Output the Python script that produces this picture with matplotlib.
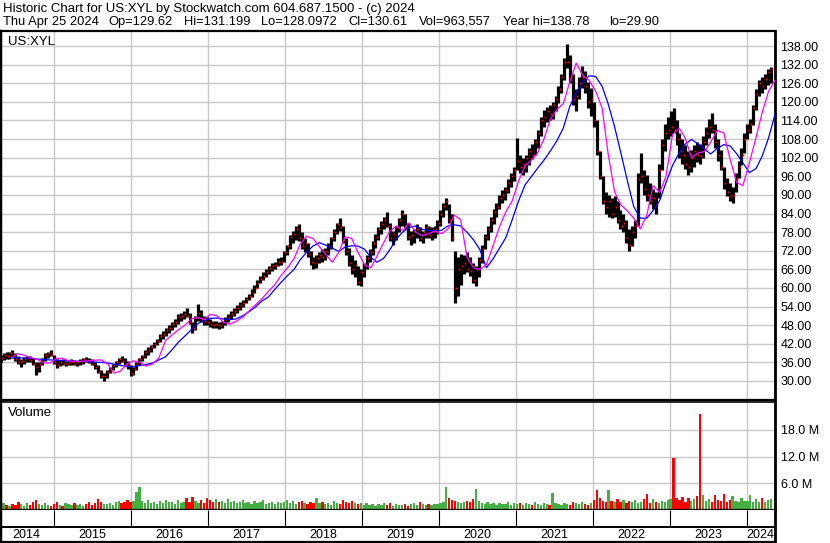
import matplotlib
matplotlib.use('Agg')
import matplotlib.pyplot as plt
import matplotlib.dates as mdates
import matplotlib.ticker as mticker
import pandas as pd
import numpy as np

plt.rcParams['font.family'] = ['Liberation Sans', 'DejaVu Sans']

# ---- price data, one bar every two weeks from 2014-04-25 ----
hi = [
    # 2014
    38.5, 39.0, 39.2, 39.5, 40.0, 39.0, 38.0, 37.0, 37.8, 38.0, 38.0, 37.5, 36.0, 36.0, 37.5, 39.0, 39.5, 40.0,
    # 2015
    38.5, 37.0, 36.8, 37.0, 36.5, 36.5, 37.0, 36.8, 36.5, 37.0, 37.5, 37.8, 37.5, 37.0, 36.0, 35.0, 33.5, 32.5,
    33.5, 34.5, 35.5, 36.5, 37.5, 38.0, 37.5, 36.5,
    # 2016
    35.0, 34.5, 36.0, 37.5, 38.5, 40.0, 41.0, 41.5, 42.5, 43.5, 45.0, 46.0, 47.0, 48.0, 49.0, 50.0, 51.5, 52.0,
    52.5, 53.5, 52.0, 49.0, 51.0, 54.8, 53.0, 51.0,
    # 2017
    50.5, 50.0, 49.5, 49.5, 49.0, 49.5, 50.5, 51.5, 52.5, 53.5, 54.5, 55.5, 56.0, 57.0, 58.0, 59.5, 61.0, 62.5,
    64.0, 65.0, 66.0, 67.0, 68.0, 68.5, 69.5, 70.0,
    # 2018
    72.0, 74.0, 77.0, 78.5, 80.0, 80.5, 78.0, 76.0, 74.5, 72.0, 70.0, 70.5, 71.5, 72.5, 73.0, 74.5, 76.5, 79.0,
    81.0, 82.5, 80.0, 76.0, 73.0, 70.5, 69.0, 67.0,
    # 2019
    66.0, 68.0, 70.5, 72.5, 75.0, 77.5, 79.5, 81.5, 83.0, 84.5, 81.0, 78.5, 80.0, 82.5, 85.0, 84.0, 81.0, 78.5,
    79.0, 80.5, 79.5, 78.5, 80.5, 80.0, 79.5, 80.0,
    # 2020
    82.0, 85.0, 87.5, 89.0, 87.0, 84.0, 72.0, 70.0, 71.0, 70.5, 71.5, 70.0, 68.0, 67.0, 70.0, 74.0, 77.5, 80.0,
    83.0, 85.5, 87.5, 90.0, 91.5, 92.5, 95.0, 97.0, 99.0,
    # 2021
    108.5, 103.0, 102.0, 103.0, 105.0, 106.5, 108.0, 111.0, 115.0, 117.5, 118.5, 119.0, 120.0, 122.0, 125.0,
    129.0, 134.0, 138.8, 135.0, 129.0, 124.0, 128.0, 131.5, 130.0, 126.5, 124.5,
    # 2022
    120.0, 114.0, 104.0, 96.0, 91.0, 90.0, 89.0, 89.5, 88.0, 85.0, 84.0, 82.0, 79.0, 80.0, 82.0, 97.0, 103.5,
    98.0, 96.5, 94.0, 92.0, 91.0, 100.0, 108.0, 113.0, 115.0,
    # 2023
    117.0, 118.0, 114.0, 110.0, 108.0, 106.0, 104.0, 104.5, 106.0, 107.0, 106.5, 109.0, 112.0, 114.5, 116.5,
    113.0, 108.0, 104.5, 99.0, 95.5, 94.0, 92.5, 97.0, 101.0, 105.0, 110.0,
    # 2024
    113.0, 114.5, 119.0, 124.0, 127.0, 128.0, 129.0, 130.5, 131.2,
]
lo = [
    36.0, 36.8, 37.0, 37.2, 37.5, 36.5, 35.5, 34.5, 35.5, 36.0, 36.2, 35.0, 31.8, 33.0, 35.0, 36.5, 37.5, 38.0,
    35.5, 34.2, 34.8, 35.0, 34.8, 35.0, 35.2, 35.0, 34.8, 35.2, 35.5, 36.0, 35.8, 35.0, 34.0, 32.5, 31.0, 30.0,
    31.0, 32.5, 33.5, 34.5, 35.5, 36.0, 35.0, 34.0,
    31.5, 32.0, 33.5, 35.0, 36.5, 37.5, 38.5, 39.5, 40.5, 41.5, 42.5, 43.5, 44.5, 45.5, 46.5, 47.5, 48.5, 49.5,
    50.0, 50.5, 48.5, 45.5, 46.5, 49.5, 49.0, 48.0,
    48.0, 47.5, 47.0, 47.2, 46.8, 47.2, 48.0, 49.0, 50.0, 51.0, 52.0, 53.0, 54.0, 55.0, 56.0, 57.0, 58.5, 60.0,
    61.5, 62.5, 63.5, 64.5, 65.5, 66.0, 67.0, 67.5,
    68.5, 70.5, 72.5, 74.5, 75.5, 75.0, 72.5, 71.5, 70.0, 67.5, 66.0, 66.5, 68.0, 68.5, 69.0, 70.5, 72.5, 75.0,
    77.5, 78.5, 74.5, 70.5, 67.0, 64.5, 63.5, 61.0,
    60.5, 63.5, 66.0, 68.5, 70.5, 73.0, 75.5, 77.5, 79.0, 79.5, 75.0, 74.0, 75.5, 78.0, 80.0, 79.0, 75.5, 74.0,
    74.5, 76.0, 75.0, 74.5, 76.0, 76.0, 75.5, 76.0,
    77.5, 80.0, 83.0, 85.0, 81.0, 75.0, 55.0, 57.5, 61.0, 64.5, 65.0, 64.0, 61.5, 60.5, 63.5, 68.0, 72.5, 75.5,
    78.0, 80.5, 83.0, 85.5, 87.5, 88.5, 90.5, 92.5, 94.5,
    98.0, 97.0, 96.5, 97.5, 99.5, 101.5, 103.0, 105.0, 109.0, 112.0, 113.5, 114.0, 114.5, 117.0, 119.5, 123.0,
    127.0, 131.0, 126.0, 119.0, 117.0, 121.0, 124.5, 123.0, 118.0, 115.5,
    112.0, 103.0, 95.0, 87.0, 84.0, 83.0, 82.5, 83.0, 81.0, 79.0, 78.0, 74.5, 72.0, 73.5, 76.0, 80.0, 94.0,
    90.0, 88.0, 87.0, 85.5, 84.0, 89.0, 98.0, 104.0, 108.0,
    109.0, 110.0, 106.0, 102.0, 100.0, 98.5, 96.5, 97.5, 99.0, 100.5, 100.0, 102.0, 106.0, 108.5, 110.0, 105.0,
    101.0, 98.0, 92.0, 89.5, 88.0, 87.3, 91.0, 95.5, 99.5, 103.5,
    108.0, 110.0, 112.5, 117.5, 122.0, 123.0, 124.0, 125.5, 126.0,
]
close = [
    37.5, 38.5, 38.0, 39.0, 38.0, 37.0, 36.0, 36.5, 37.0, 37.5, 36.8, 35.5, 34.5, 35.5, 37.0, 38.5, 39.0, 38.5,
    36.0, 35.0, 36.0, 35.5, 35.8, 36.0, 36.2, 35.5, 36.0, 36.5, 37.0, 36.5, 36.0, 35.5, 34.5, 33.0, 31.5, 31.5,
    33.0, 34.0, 35.0, 36.0, 37.0, 36.5, 35.5, 35.0,
    32.5, 34.0, 35.5, 37.0, 38.0, 39.5, 40.0, 41.0, 42.0, 43.0, 44.5, 45.0, 46.5, 47.0, 48.5, 49.0, 50.5, 51.0,
    51.5, 51.0, 49.0, 47.0, 50.5, 52.0, 50.0, 49.5,
    49.0, 48.5, 48.0, 48.5, 48.0, 49.0, 50.0, 50.5, 51.5, 52.5, 53.5, 54.5, 55.0, 56.5, 57.5, 58.5, 60.0, 61.5,
    63.0, 64.0, 65.0, 66.5, 67.0, 67.5, 68.5, 68.5,
    71.5, 73.5, 76.5, 77.5, 79.0, 76.0, 73.5, 74.5, 71.0, 68.5, 68.0, 69.5, 70.5, 70.0, 72.0, 73.5, 76.0, 78.0,
    80.5, 79.5, 75.5, 72.0, 68.0, 66.0, 67.5, 62.0,
    65.0, 67.5, 69.5, 71.5, 74.5, 76.5, 79.0, 80.5, 82.0, 80.0, 76.0, 77.5, 79.5, 82.0, 84.0, 80.0, 76.5, 77.0,
    78.5, 79.0, 76.0, 78.0, 79.5, 77.0, 78.5, 79.0,
    81.0, 84.0, 86.5, 88.0, 82.0, 76.0, 60.0, 66.0, 67.0, 68.0, 66.0, 65.5, 62.5, 66.0, 69.0, 72.5, 76.5, 79.0,
    82.0, 84.5, 86.0, 89.0, 90.0, 91.5, 94.0, 96.0, 98.0,
    101.0, 99.0, 100.0, 102.0, 104.0, 103.0, 107.0, 110.0, 114.0, 115.0, 117.0, 116.0, 119.0, 121.0, 124.0,
    128.0, 133.0, 133.0, 128.0, 121.0, 122.0, 126.0, 128.0, 125.0, 120.0, 121.0,
    114.0, 104.0, 96.0, 88.0, 86.0, 88.0, 84.0, 86.0, 82.0, 80.0, 81.0, 76.0, 74.0, 78.0, 80.0, 95.0, 96.0,
    92.0, 90.0, 88.0, 89.0, 87.0, 98.0, 106.0, 110.0, 111.0,
    112.0, 111.0, 108.0, 104.0, 103.0, 100.0, 99.0, 102.0, 104.0, 103.0, 102.5, 107.0, 110.0, 112.0, 111.0,
    107.0, 103.0, 99.0, 94.0, 91.0, 89.5, 90.0, 95.0, 99.0, 103.0, 108.0,
    111.0, 113.0, 118.0, 122.5, 126.0, 125.0, 127.5, 129.5, 130.6,
]
# volume in millions, same two-week steps
vol = [
    1.3, 1.6, 1.2, 1.0, 1.4, 1.1, 1.8, 1.3, 1.0, 1.5, 1.2, 1.7, 2.3, 1.4, 1.1, 1.5, 1.2, 1.0,
    1.4, 1.9, 1.2, 1.0, 1.5, 1.3, 1.1, 1.6, 1.2, 1.4, 1.0, 1.3, 1.8, 1.2, 1.5, 2.5, 1.7, 1.4, 1.3, 1.6, 1.2,
    1.9, 2.0, 1.5, 1.7, 2.2,
    1.8, 2.0, 4.0, 5.2, 2.0, 1.6, 2.3, 1.5, 1.9, 1.4, 2.0, 1.6, 2.3, 1.7, 1.9, 1.4, 2.2, 1.5, 1.8, 2.6, 1.7,
    3.0, 2.0, 1.6, 2.2, 1.5,
    2.8, 2.2, 1.9, 2.5, 1.7, 2.0, 1.6, 2.4, 1.8, 2.1, 1.5, 1.9, 2.3, 1.6, 1.8, 1.4, 2.0, 1.5, 1.7, 2.2, 1.4,
    1.6, 1.9, 1.3, 1.7, 1.5,
    1.8, 2.3, 1.6, 2.0, 1.4, 1.7, 2.1, 1.5, 1.3, 1.8, 1.6, 2.7, 1.5, 1.9, 1.3, 1.6, 1.2, 2.0, 1.5, 1.4, 2.2,
    1.7, 1.6, 2.1, 1.5, 1.3,
    1.6, 1.2, 1.5, 1.1, 1.3, 1.0, 1.4, 1.2, 1.6, 1.1, 1.5, 1.0, 1.3, 1.2, 1.1, 1.4, 1.0, 1.3, 1.6, 1.2, 1.9,
    1.3, 1.1, 1.4, 1.2, 1.3,
    1.4, 1.5, 1.8, 5.2, 2.6, 2.2, 2.0, 1.7, 1.6, 1.9, 2.1, 1.8, 2.4, 4.8, 2.0, 1.6, 1.4, 1.7, 1.3, 1.5, 1.2,
    1.6, 1.4, 1.3, 1.7, 1.2, 1.5,
    1.3, 1.6, 1.2, 1.5, 1.4, 1.1, 1.8, 1.3, 1.2, 1.6, 1.4, 1.2, 3.8, 1.5, 1.3, 1.1, 1.6, 1.4, 1.2, 1.9, 1.5,
    1.3, 1.7, 1.4, 1.2, 1.6,
    2.2, 4.4, 2.6, 2.0, 1.8, 4.5, 2.1, 1.7, 2.5, 1.9, 2.2, 1.6, 2.0, 1.8, 2.3, 1.5, 1.9, 2.4, 3.7, 1.6, 2.4,
    1.8, 1.5, 2.0, 1.7, 2.2,
    2.5, 11.8, 2.8, 2.2, 3.0, 1.9, 2.6, 2.1, 2.4, 3.1, 21.7, 3.3, 2.0, 2.5, 1.8, 3.4, 2.2, 2.0, 3.5, 1.9, 2.3,
    3.2, 2.1, 1.8, 2.6, 2.0,
    2.0, 3.3, 1.8, 2.4, 1.9, 2.8, 1.7, 2.2, 2.5,
]

# moving averages read monthly (mid-month, May 2014 .. Apr 2024)
ma_short = [
    37.5, 38.8, 38.3, 37.5, 37.0, 35.8, 35.8, 37.3,
    37.3, 36.5, 36.3, 36.3, 36.5, 36.7, 36.8, 35.5, 32.5, 33.2, 35.5, 36.5,
    36.0, 34.8, 35.5, 37.5, 43.0, 44.8, 46.5, 48.0, 50.0, 50.5, 49.8, 51.5,
    51.0, 49.0, 48.3, 49.2, 50.5, 52.5, 54.5, 56.5, 58.8, 61.0, 64.0, 66.5,
    69.5, 74.0, 76.7, 76.0, 73.3, 70.8, 68.3, 71.5, 76.5, 76.0, 71.5, 67.5,
    66.5, 70.3, 74.5, 78.3, 80.0, 78.5, 81.0, 78.0, 76.8, 77.5, 78.3, 77.5,
    79.0, 83.5, 82.0, 70.0, 66.5, 66.0, 67.5, 73.5, 79.5, 84.5, 88.0, 94.5,
    99.5, 101.0, 103.5, 108.0, 114.5, 117.5, 119.5, 126.5, 132.5, 128.5, 127.0, 123.5,
    118.0, 103.5, 91.0, 86.8, 84.8, 82.5, 79.0, 83.5, 93.0, 90.8, 96.0, 109.5,
    111.5, 108.5, 102.0, 103.5, 104.0, 107.0, 110.8, 110.0, 101.5, 94.0, 93.0, 100.5,
    108.5, 116.5, 123.5, 127.0,
]
ma_long = [
    37.5, 37.5, 37.4, 37.3, 37.1, 36.9, 36.8, 36.7,
    36.6, 36.5, 36.4, 36.3, 36.2, 36.1, 36.0, 35.8, 35.4, 35.0, 34.7, 34.6,
    35.0, 35.3, 35.8, 36.8, 37.8, 40.0, 42.5, 44.5, 46.5, 48.5, 49.5, 50.2,
    50.3, 50.0, 49.8, 50.0, 51.0, 52.3, 53.8, 55.8, 57.0, 59.5, 61.8, 64.0,
    66.0, 69.0, 71.5, 73.5, 74.6, 73.8, 72.8, 71.8, 73.2, 73.6, 73.5, 72.5,
    69.8, 68.3, 69.5, 72.3, 75.8, 78.0, 79.5, 80.0, 78.9, 78.5, 78.3, 78.6,
    80.0, 80.4, 80.0, 78.0, 75.5, 72.4, 66.5, 69.3, 72.7, 76.2, 81.9, 88.1,
    93.3, 95.8, 98.6, 101.2, 104.2, 107.4, 111.6, 118.6, 123.0, 126.3, 128.4, 128.2,
    125.0, 119.5, 112.0, 103.5, 94.5, 86.2, 82.5, 82.5, 85.0, 88.2, 94.0, 99.5,
    103.5, 106.3, 107.9, 106.5, 104.8, 103.2, 105.0, 106.2, 105.8, 103.3, 100.3, 97.2,
    98.5, 102.5, 108.5, 116.0,
]

price_ticks = list(range(30, 139, 6))
vol_ticks = [6, 12, 18]
years = list(range(2014, 2025))

n = len(hi)
assert len(lo) == n and len(close) == n and len(vol) == n, (len(hi), len(lo), len(close), len(vol))
assert len(ma_short) == len(ma_long) == 120, (len(ma_short), len(ma_long))

dates = mdates.date2num(pd.date_range('2014-04-25', periods=n, freq='14D'))
ma_dates = mdates.date2num(pd.date_range('2014-05-15', periods=120, freq='MS') + pd.Timedelta(days=14))
hi = np.array(hi); lo = np.array(lo); close = np.array(close); vol = np.array(vol)

x0 = mdates.date2num(pd.Timestamp('2014-04-22'))
x1 = mdates.date2num(pd.Timestamp('2024-05-15'))
year_lines = [mdates.date2num(pd.Timestamp(f'{y}-01-01')) for y in years[1:]]

W, H = 830, 543
fig = plt.figure(figsize=(W / 100, H / 100), dpi=100)


def box(l, t, r, b):
    return [l / W, 1 - b / H, (r - l) / W, (b - t) / H]


grid_c = '#c8c8c8'

# ---- price panel ----
ax = fig.add_axes(box(0, 31, 775, 400))
ax.set_xlim(x0, x1)
ax.set_ylim(23.87, 142.85)
ax.set_yticks(price_ticks)
ax.set_xticks(year_lines)
ax.grid(True, color=grid_c, lw=1.0)
ax.set_axisbelow(True)
ax.vlines(dates, lo, hi, color='black', lw=2.3, zorder=2)
ax.plot(dates + 5, close, ls='none', marker='s', ms=1.3, mew=0, color='red', zorder=3)
ax.plot(ma_dates, ma_long, color='#0000ff', lw=0.9, zorder=4)
ax.plot(ma_dates, ma_short, color='#ff00ff', lw=0.9, zorder=4)
ax.yaxis.tick_right()
ax.yaxis.set_major_formatter(mticker.FormatStrFormatter('%.2f'))
ax.tick_params(axis='y', length=0, pad=4, labelsize=9, labelcolor='black')
ax.tick_params(axis='x', length=0, labelbottom=False)
for s in ax.spines.values():
    s.set_color('black')
ax.spines['top'].set_linewidth(1.6)
ax.spines['left'].set_linewidth(2.5)
ax.spines['right'].set_linewidth(2.0)
ax.spines['bottom'].set_linewidth(1.6)
fig.text(8 / W, 1 - 42 / H, 'US:XYL', fontsize=9.5, va='center', ha='left')

# ---- volume panel ----
axv = fig.add_axes(box(0, 402, 775, 510))
axv.set_xlim(x0, x1)
axv.set_ylim(0, 24.3)
up = np.concatenate([[True], close[1:] >= close[:-1]])
colors = np.where(up, '#44b044', '#ff0000')
axv.bar(dates, vol, width=11, color=colors, zorder=2)
axv.set_yticks(vol_ticks)
axv.set_yticklabels([f'{v:.1f} M' for v in vol_ticks])
axv.set_xticks(year_lines)
axv.grid(True, color=grid_c, lw=1.0)
axv.set_axisbelow(True)
axv.yaxis.tick_right()
axv.tick_params(axis='y', length=0, pad=4, labelsize=9)
axv.tick_params(axis='x', length=0, labelbottom=False)
for s in axv.spines.values():
    s.set_color('black')
axv.spines['top'].set_linewidth(1.2)
axv.spines['left'].set_linewidth(2.5)
axv.spines['right'].set_linewidth(2.0)
axv.spines['bottom'].set_linewidth(1.6)
fig.text(8 / W, 1 - 413 / H, 'Volume', fontsize=9.5, va='center', ha='left')

# ---- date strip ----
axd = fig.add_axes(box(0, 510, 775, 542))
axd.set_xlim(x0, x1)
axd.set_ylim(32, 0)
axd.vlines(year_lines, 0, 17, color='black', lw=0.8)
axd.axhline(17, color='black', lw=1.4)
edges = [x0] + year_lines + [x1]
for y, a, b in zip(years, edges[:-1], edges[1:]):
    axd.text((a + b) / 2, 24.5, str(y), ha='center', va='center', fontsize=9)
axd.set_xticks([]); axd.set_yticks([])
for s in axd.spines.values():
    s.set_color('black')
axd.spines['top'].set_visible(False)
axd.spines['left'].set_linewidth(2.5)
axd.spines['right'].set_linewidth(2.0)
axd.spines['bottom'].set_linewidth(1.6)

# ---- header ----
fig.text(3 / W, 1 - 9 / H, 'Historic Chart for US:XYL by Stockwatch.com 604.687.1500 - (c) 2024',
         fontsize=9.5, va='center', ha='left')
line2 = [(3, 'Thu Apr 25 2024'), (108, 'Op=129.62'), (184, 'Hi=131.199'), (261, 'Lo=128.0972'),
         (348, 'Cl=130.61'), (419, 'Vol=963,557'), (503, 'Year hi=138.78'), (609, 'lo=29.90')]
for xp, s in line2:
    fig.text(xp / W, 1 - 22 / H, s, fontsize=9.3, va='center', ha='left')

fig.savefig('out.png', dpi=100)
